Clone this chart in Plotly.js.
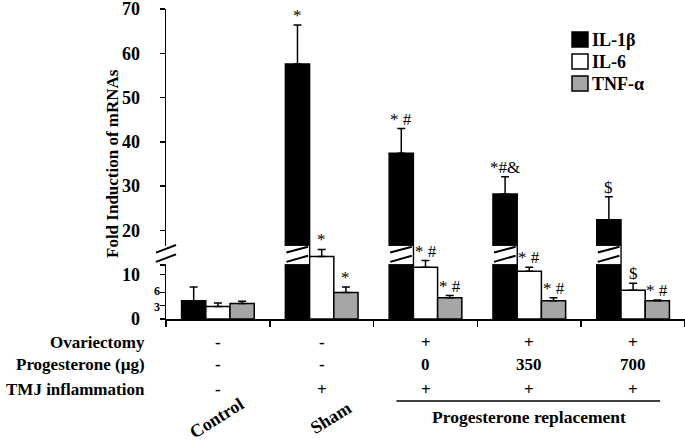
<!DOCTYPE html>
<html>
<head>
<meta charset="utf-8">
<script src="https://cdn.plot.ly/plotly-3.0.1.min.js"></script>
<style>html,body{margin:0;padding:0;background:#fff;}#chart{width:685px;height:441px;}</style>
</head>
<body>
<div id="chart"></div>
<script>
// ---- data ----
var categories = ["Control", "Sham", "OVX P0", "OVX P350", "OVX P700"];
var seriesNames = ["IL-1\u03b2", "IL-6", "TNF-\u03b1"];
var il1bValues = [4.1, 57.6, 37.4, 28.2, 22.4];
var il1bErrors = [3.1, 8.8, 5.6, 3.9, 5.2];
var il6Values = [2.8, 14.1, 11.7, 10.8, 6.5];
var il6Errors = [0.8, 1.6, 1.5, 0.9, 1.6];
var tnfValues = [3.5, 6.0, 4.8, 4.1, 4.1];
var tnfErrors = [0.5, 1.2, 0.5, 0.7, 0.2];
var il1bSig = ["", "*", "* #", "*#&", "$"];
var il6Sig = ["", "*", "* #", "* #", "$"];
var tnfSig = ["", "*", "* #", "* #", "* #"];
var yTickVals = [0, 3, 6, 10, 12.2, 20, 30, 40, 50, 60, 70];
var yTickText = ["0", "", "", "10", "", "20", "30", "40", "50", "60", "70"];
var smallTickLabels = ["3", "6"];
var rowLabels = ["Ovariectomy", "Progesterone (\u00b5g)", "TMJ inflammation"];
var ovariectomyRow = ["-", "-", "+", "+", "+"];
var progesteroneRow = ["-", "-", "0", "350", "700"];
var tmjRow = ["-", "+", "+", "+", "+"];
var groupLabels = ["Control", "Sham"];
var bracketLabel = "Progesterone replacement";

// ---- style ----
var FONT = "Liberation Serif, Times New Roman, serif";
var BARGAP = 0.3;
var colors = ["#000000", "#ffffff", "#a6a6a6"];
var BREAK_LO = 12.4, BREAK_HI = 16.5;

var values = [il1bValues, il6Values, tnfValues];
var errors = [il1bErrors, il6Errors, tnfErrors];
var sigs = [il1bSig, il6Sig, tnfSig];
var barW = (1 - BARGAP) / 3;
var offsets = [-barW, 0, barW];

var traces = values.map(function (vals, s) {
  return {
    type: "bar",
    name: seriesNames[s],
    x: categories,
    y: vals,
    marker: { color: colors[s], line: { color: "#000", width: 1.5 } },
    error_y: {
      type: "data", symmetric: false,
      array: errors[s], arrayminus: vals.map(function () { return 0; }),
      color: "#000", thickness: 1.5, width: 4
    },
    hoverinfo: "none",
    showlegend: false
  };
});

var annotations = [];
var shapes = [];
// significance marks
sigs.forEach(function (arr, s) {
  arr.forEach(function (t, i) {
    if (!t) return;
    annotations.push({
      x: i + offsets[s], y: values[s][i] + errors[s][i], xref: "x", yref: "y",
      text: t, showarrow: false, yanchor: "bottom", xanchor: "center",
      font: { family: FONT, size: 17, color: "#000" }, yshift: -2
    });
  });
});
// small y tick labels 3 and 6
smallTickLabels.forEach(function (t, k) {
  annotations.push({
    x: 0, xref: "paper", xshift: -5, y: +t, yref: "y", yshift: k === 0 ? -1.5 : 1.5,
    text: "<b>" + t + "</b>", showarrow: false, xanchor: "right", yanchor: "middle",
    height: 10, borderpad: 0, font: { family: FONT, size: 12, color: "#000" }
  });
});
// y title
annotations.push({
  x: 0, xref: "paper", xshift: -54, y: 0.5, yref: "paper",
  text: "<b>Fold Induction of mRNAs</b>", textangle: -90, showarrow: false,
  xanchor: "center", yanchor: "middle",
  font: { family: FONT, size: 17, color: "#000" }
});
// legend (drawn manually to match box sizes)
seriesNames.forEach(function (n, s) {
  var top = 23 + s * 22;
  shapes.push({ type: "rect", xref: "paper", xsizemode: "pixel", xanchor: 0, x0: 406, x1: 422,
    yref: "paper", ysizemode: "pixel", yanchor: 1, y0: -top, y1: -(top + 15),
    fillcolor: colors[s], line: { color: "#000", width: 1.5 } });
  annotations.push({ x: 0, xref: "paper", xshift: 424, y: 1, yref: "paper", yshift: -(top + 7.5),
    text: "<b>" + n + "</b>", showarrow: false, xanchor: "left", yanchor: "middle",
    font: { family: FONT, size: 18, color: "#000" } });
});
// table rows
var rows = [ovariectomyRow, progesteroneRow, tmjRow];
var rowY = [-0.077, -0.148, -0.229];
rows.forEach(function (row, r) {
  annotations.push({
    x: 0, xref: "paper", xshift: -19, y: rowY[r], yref: "paper",
    text: "<b>" + rowLabels[r] + "</b>", showarrow: false, xanchor: "right", yanchor: "middle",
    font: { family: FONT, size: 17, color: "#000" }
  });
  row.forEach(function (t, i) {
    annotations.push({
      x: i, xref: "x", y: rowY[r], yref: "paper",
      text: "<b>" + t + "</b>", showarrow: false, xanchor: "center", yanchor: "middle",
      font: { family: FONT, size: 17, color: "#000" }
    });
  });
});
// rotated group labels
groupLabels.forEach(function (t, i) {
  annotations.push({
    x: i, xref: "x", xshift: i === 0 ? -1 : 9, y: -0.32, yref: "paper",
    text: "<b>" + t + "</b>", textangle: -32, showarrow: false,
    xanchor: "center", yanchor: "middle",
    font: { family: FONT, size: 18, color: "#000" }
  });
});
annotations.push({
  x: 3, xref: "x", y: -0.316, yref: "paper",
  text: "<b>" + bracketLabel + "</b>", showarrow: false, xanchor: "center", yanchor: "middle",
  font: { family: FONT, size: 17.5, color: "#000" }
});

// shapes: axis break and bar breaks
shapes.push({ type: "rect", xref: "paper", xsizemode: "pixel", xanchor: 0, x0: -4, x1: 4,
  yref: "y", y0: BREAK_LO, y1: BREAK_HI, fillcolor: "#fff", line: { width: 0 }, layer: "above" });
[[12.9, 14.6], [15.0, 16.7]].forEach(function (p) {
  shapes.push({ type: "line", xref: "paper", xsizemode: "pixel", xanchor: 0, x0: -10, x1: 10,
    yref: "y", y0: p[0], y1: p[1], line: { color: "#000", width: 2 }, layer: "above" });
});
il1bValues.forEach(function (v, i) {
  if (v <= BREAK_HI) return;
  var xl = i + offsets[0] - barW / 2, xr = i + offsets[0] + barW / 2;
  shapes.push({ type: "rect", xref: "x", x0: xl - 0.012, x1: xr - 0.006, yref: "y", y0: BREAK_LO, y1: BREAK_HI,
    fillcolor: "#fff", line: { width: 0 }, layer: "above" });
  [[12.9, 14.3], [15.0, 16.3]].forEach(function (p) {
    shapes.push({ type: "line", xref: "x", x0: xl + 0.01, x1: xr - 0.015, yref: "y", y0: p[0], y1: p[1],
      line: { color: "#000", width: 2 }, layer: "above" });
  });
});
// bracket line under table
shapes.push({ type: "line", xref: "x", x0: 1.72, x1: 4.26, yref: "paper", y0: -0.2645, y1: -0.2645,
  line: { color: "#000", width: 1.5 } });

var layout = {
  width: 685, height: 441,
  margin: { l: 166, r: 0, t: 9, b: 122 },
  paper_bgcolor: "#fff", plot_bgcolor: "#fff",
  barmode: "group", bargap: BARGAP, bargroupgap: 0,
  showlegend: false,
  xaxis: {
    type: "category", range: [-0.5, 4.5],
    showticklabels: false, ticks: "outside", tickson: "boundaries", ticklen: 6,
    tickwidth: 1.5, tickcolor: "#000", showline: true, linecolor: "#000", linewidth: 1.5,
    showgrid: false, zeroline: false, fixedrange: true
  },
  yaxis: {
    range: [0, 70], tickmode: "array", tickvals: yTickVals, ticktext: yTickText,
    ticks: "outside", ticklen: 5, tickwidth: 1.5, tickcolor: "#000",
    showline: true, linecolor: "#000", linewidth: 1.5,
    showgrid: false, zeroline: false, ticklabelstandoff: 16, ticklabeloverflow: "allow",
    tickfont: { family: FONT, size: 18, color: "#000", weight: "bold" }
  },
  annotations: annotations,
  shapes: shapes
};

Plotly.newPlot("chart", traces, layout, { staticPlot: true, displayModeBar: false });
</script>
</body>
</html>
